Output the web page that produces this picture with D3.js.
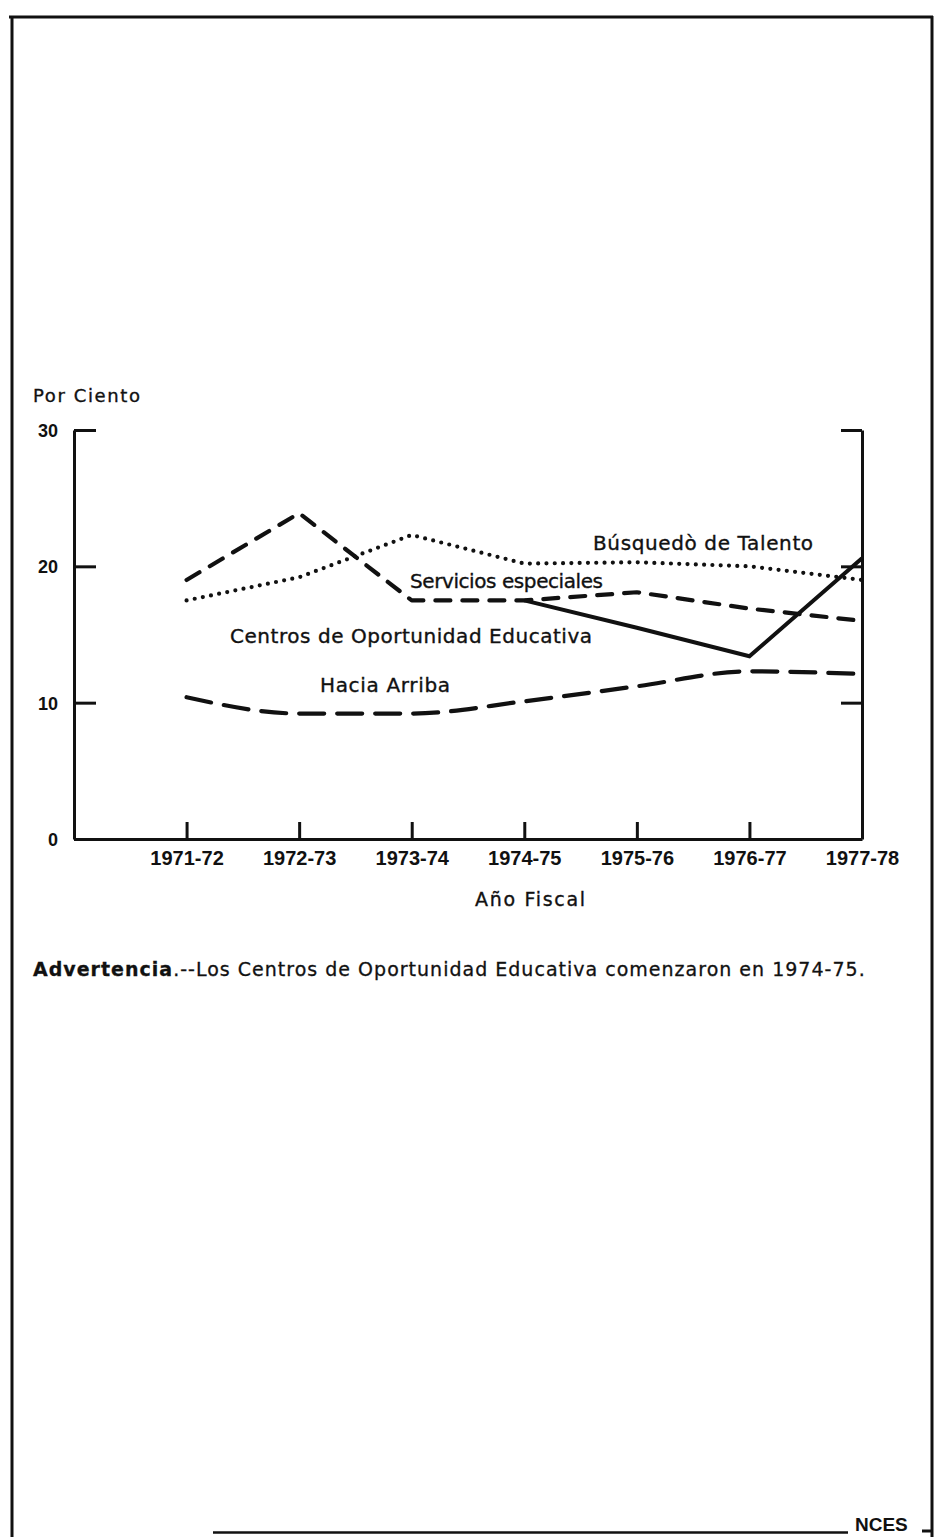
<!DOCTYPE html>
<html>
<head>
<meta charset="utf-8">
<script src="https://cdn.jsdelivr.net/npm/d3@7"></script>
<style>
  html, body { margin: 0; padding: 0; background: #fff; }
  svg { display: block; }
</style>
</head>
<body>
<svg id="chart" width="937" height="1537"></svg>
<script>
// Fiscal years on the horizontal axis
const years = ["1971-72", "1972-73", "1973-74", "1974-75", "1975-76", "1976-77", "1977-78"];
// Percent ticks on the vertical axis
const yTicks = [0, 10, 20, 30];
const yTickLabels = ["0", "10", "20", "30"];

// Percent per program and fiscal year
const serviciosEspeciales = [19.0, 23.9, 17.5, 17.5, 18.1, 16.9, 16.0];
const busquedaTalento     = [17.5, 19.2, 22.3, 20.2, 20.3, 20.0, 19.0];
const centrosOportunidad  = [null, null, null, 17.5, 15.5, 13.4, 20.6]; // began in 1974-75
const haciaArriba         = [10.4, 9.2, 9.2, 10.1, 11.2, 12.3, 12.1];

// Series names as printed next to the lines
const seriesNames = ["Búsquedò de Talento", "Servicios especiales",
                     "Centros de Oportunidad Educativa", "Hacia Arriba"];

const yTitle = "Por Ciento";
const xTitle = "Año Fiscal";
const noteLead = "Advertencia";
const noteText = ".--Los Centros de Oportunidad Educativa comenzaron en 1974-75.";
const footerMark = "NCES";

// ---- layout ----
const ink = "#111";
const boldFont = "'Liberation Sans', Arial, Helvetica, sans-serif";
const textFont = "'DejaVu Sans', 'Liberation Sans', sans-serif";
const svg = d3.select("#chart");

const x = d3.scaleLinear().domain([-1, years.length - 1]).range([74, 862]);
const y = d3.scaleLinear().domain([0, 30]).range([839, 430]);

// page frame
const frame = svg.append("g").attr("stroke", ink).attr("fill", "none");
frame.append("line").attr("x1", 9).attr("y1", 17).attr("x2", 933).attr("y2", 17).attr("stroke-width", 3);
frame.append("line").attr("x1", 12).attr("y1", 16).attr("x2", 12).attr("y2", 1537).attr("stroke-width", 3);
frame.append("line").attr("x1", 932).attr("y1", 16).attr("x2", 932).attr("y2", 1537).attr("stroke-width", 3);
frame.append("line").attr("x1", 213).attr("y1", 1532.5).attr("x2", 848).attr("y2", 1532.5).attr("stroke-width", 2.5);
frame.append("line").attr("x1", 922).attr("y1", 1531).attr("x2", 932).attr("y2", 1531).attr("stroke-width", 3);
svg.append("text")
  .attr("x", 855).attr("y", 1531)
  .attr("font-family", boldFont).attr("font-weight", "bold").attr("font-size", 19)
  .attr("fill", ink).text(footerMark);

// ---- axes ----
function styleAxis(g) {
  g.selectAll("path, line").attr("stroke", ink).attr("stroke-width", 3);
  g.selectAll("text").attr("fill", ink).attr("font-family", boldFont).attr("font-weight", "bold");
}

svg.append("g")
  .attr("transform", `translate(${x(-1)},0)`)
  .call(d3.axisLeft(y).tickValues(yTicks).tickFormat((d, i) => yTickLabels[i])
        .tickSize(-22).tickSizeOuter(0).tickPadding(16))
  .call(styleAxis)
  .call(g => g.selectAll("text").attr("font-size", 18).attr("dy", "0.36em"));

svg.append("g")
  .attr("transform", `translate(${x(years.length - 1)},0)`)
  .call(d3.axisRight(y).tickValues(yTicks.slice(1)).tickFormat("")
        .tickSize(-21).tickSizeOuter(0))
  .call(styleAxis);

svg.append("g")
  .attr("transform", `translate(0,${y(0)})`)
  .call(d3.axisBottom(x).tickValues(d3.range(years.length)).tickFormat(i => years[i])
        .tickSize(-17).tickSizeOuter(0).tickPadding(12))
  .call(styleAxis)
  .call(g => g.selectAll("text").attr("font-size", 20).attr("dy", "0.71em"));

// ---- series lines ----
const idx = d3.range(years.length);
function drawLine(values, curve, attrs) {
  const line = d3.line()
    .defined(i => values[i] !== null)
    .x(i => x(i))
    .y(i => y(values[i]))
    .curve(curve);
  const p = svg.append("path")
    .datum(idx)
    .attr("d", line)
    .attr("fill", "none")
    .attr("stroke", ink);
  Object.entries(attrs).forEach(([k, v]) => p.attr(k, v));
  return p;
}

drawLine(serviciosEspeciales, d3.curveLinear,
  { "stroke-width": 4.2, "stroke-dasharray": "15,12", "stroke-linecap": "round", "stroke-linejoin": "round" });
drawLine(busquedaTalento, d3.curveLinear,
  { "stroke-width": 4.2, "stroke-dasharray": "0,8.3", "stroke-linecap": "round" });
drawLine(haciaArriba, d3.curveMonotoneX,
  { "stroke-width": 4.2, "stroke-dasharray": "25,13", "stroke-linecap": "round" });
drawLine(centrosOportunidad, d3.curveLinear,
  { "stroke-width": 4, "stroke-linejoin": "miter" });

// ---- text labels ----
// Spread a label's letters so it spans a given width.
function fitWidth(sel, width) {
  const node = sel.node();
  const n = sel.text().length;
  const natural = node.getComputedTextLength();
  sel.attr("letter-spacing", ((width - natural) / (n - 1)).toFixed(2));
  return sel;
}
function label(text, px, py, size, width) {
  const t = svg.append("text")
    .attr("x", px).attr("y", py)
    .attr("font-family", textFont).attr("font-size", size)
    .attr("fill", ink).attr("stroke", ink).attr("stroke-width", 0.35)
    .text(text);
  return fitWidth(t, width);
}

label(yTitle, 33, 402, 18, 107);
label(seriesNames[0], 593, 550, 20, 220);
label(seriesNames[1], 410, 588, 20, 193);
label(seriesNames[2], 230, 643, 20, 362);
label(seriesNames[3], 320, 692, 20, 130);
label(xTitle, 475, 906, 19, 110);

// footnote
const note = svg.append("text")
  .attr("x", 33).attr("y", 976)
  .attr("font-family", textFont).attr("font-size", 19)
  .attr("fill", ink).attr("stroke", ink).attr("stroke-width", 0.3);
note.append("tspan").attr("font-weight", "bold").text(noteLead);
note.append("tspan").text(noteText);
fitWidth(note, 832);
</script>
</body>
</html>
